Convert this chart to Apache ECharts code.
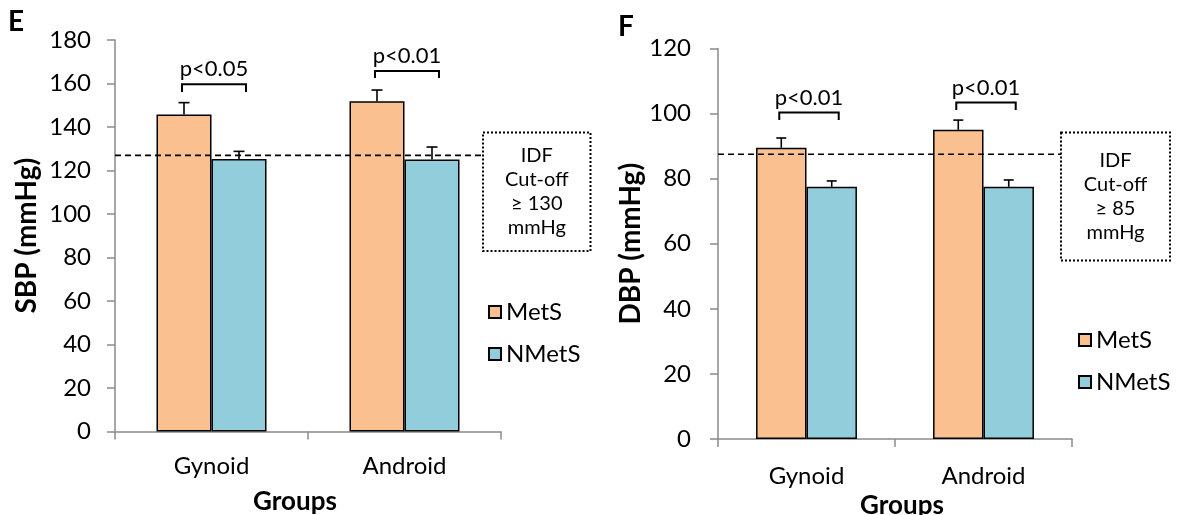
<!DOCTYPE html>
<html>
<head>
<meta charset="utf-8">
<script src="https://cdn.jsdelivr.net/npm/echarts@6/dist/echarts.min.js"></script>
<style>
  html, body { margin: 0; padding: 0; background: #ffffff; }
  #chart { width: 1185px; height: 515px; }
</style>
</head>
<body>
<div id="chart"></div>
<script>
// Groups and series
const categories = ['Gynoid', 'Android'];
const seriesNames = ['MetS', 'NMetS'];

// Panel E: systolic blood pressure (mmHg), mean and error
const sbpMetS = [145.8, 151.8];
const sbpMetSErr = [5.4, 5.2];
const sbpNMetS = [125.3, 125.1];
const sbpNMetSErr = [3.5, 5.7];
const sbpCutoffLine = 127;
const sbpPValues = ['p<0.05', 'p<0.01'];
const sbpBracketTop = [159.6, 165.7];
const sbpBracketLeg = [156.1, 162.5];
const sbpAxisRange = [0, 180, 20];
const sbpBoxText = ['IDF', 'Cut-off', '\u2265 130', 'mmHg'];

// Panel F: diastolic blood pressure (mmHg), mean and error
const dbpMetS = [89.5, 95.0];
const dbpMetSErr = [3.0, 3.0];
const dbpNMetS = [77.5, 77.5];
const dbpNMetSErr = [1.8, 2.1];
const dbpCutoffLine = 87.5;
const dbpPValues = ['p<0.01', 'p<0.01'];
const dbpBracketTop = [100.3, 103.4];
const dbpBracketLeg = [98.0, 101.1];
const dbpAxisRange = [0, 120, 20];
const dbpBoxText = ['IDF', 'Cut-off', '\u2265 85', 'mmHg'];

const FONT = 'Lato, "Open Sans", sans-serif';
const ORANGE = '#FAC090';
const BLUE = '#92CDDC';
const AXIS_GREY = '#8a8a8a';
const CAT_GAP = 0.43;

// x position of the centre of bar k (0 = MetS, 1 = NMetS) in a category
function barCenter(api, cat, k) {
  const c = api.coord([cat, 0]);
  const band = api.size([1, 0])[0];
  const w = band * (1 - CAT_GAP) / 2;
  return c[0] + (k === 0 ? -w / 2 : w / 2);
}

function barSeries(name, gridIdx, data, color) {
  return {
    name: name, type: 'bar', xAxisIndex: gridIdx, yAxisIndex: gridIdx,
    data: data, barGap: '0%', barCategoryGap: (CAT_GAP * 100) + '%',
    itemStyle: { color: color, borderColor: '#000', borderWidth: 1.5 },
    emphasis: { disabled: true }, silent: true
  };
}

function errorBarSeries(gridIdx, means, errs, k, cap) {
  return {
    type: 'custom', xAxisIndex: gridIdx, yAxisIndex: gridIdx, z: 5, silent: true,
    data: means.map((m, i) => [i, m, m + errs[i]]),
    renderItem(params, api) {
      const cat = api.value(0);
      const x = barCenter(api, cat, k);
      const y0 = api.coord([cat, api.value(1)])[1];
      const y1 = api.coord([cat, api.value(2)])[1];
      const st = { stroke: '#000', lineWidth: 1.6 };
      return { type: 'group', children: [
        { type: 'line', shape: { x1: x, y1: y0, x2: x, y2: y1 }, style: st },
        { type: 'line', shape: { x1: x - cap / 2, y1: y1, x2: x + cap / 2, y2: y1 }, style: st }
      ] };
    }
  };
}

function bracketSeries(gridIdx, tops, legs, texts) {
  return {
    type: 'custom', xAxisIndex: gridIdx, yAxisIndex: gridIdx, z: 6, silent: true,
    data: tops.map((t, i) => [i, t, legs[i]]),
    renderItem(params, api) {
      const cat = api.value(0);
      const xa = barCenter(api, cat, 0) - 2;
      const xb = barCenter(api, cat, 1) + 7;
      const yt = api.coord([cat, api.value(1)])[1];
      const yl = api.coord([cat, api.value(2)])[1];
      return { type: 'group', children: [
        { type: 'polyline',
          shape: { points: [[xa, yl], [xa, yt], [xb, yt], [xb, yl]] },
          style: { stroke: '#000', lineWidth: 2, fill: null } },
        { type: 'text', x: (xa + xb) / 2, y: yt - 4,
          style: { text: texts[params.dataIndex], fontSize: 22, fontFamily: FONT, fill: '#000',
                   align: 'center', verticalAlign: 'bottom',
                   textAlign: 'center', textVerticalAlign: 'bottom' } }
      ] };
    }
  };
}

function cutoffSeries(gridIdx, value, xEnd) {
  return {
    type: 'custom', xAxisIndex: gridIdx, yAxisIndex: gridIdx, z: 7, silent: true,
    data: [[0, value]],
    renderItem(params, api) {
      const y = api.coord([0, api.value(1)])[1];
      const x0 = params.coordSys.x;
      return { type: 'line', shape: { x1: x0, y1: y, x2: xEnd, y2: y },
               style: { stroke: '#000', lineWidth: 1.7, lineDash: [6, 4] } };
    }
  };
}

function valueAxis(gridIdx, range, name, gap, margin) {
  return {
    type: 'value', gridIndex: gridIdx, min: range[0], max: range[1], interval: range[2],
    name: name, nameLocation: 'middle', nameGap: gap,
    nameTextStyle: { fontSize: 28, fontWeight: 'bold', fontFamily: FONT, color: '#000' },
    axisLine: { show: true, lineStyle: { color: AXIS_GREY, width: 1.5 } },
    axisTick: { show: true, length: 8, lineStyle: { color: AXIS_GREY, width: 1.5 } },
    axisLabel: { fontSize: 24, fontFamily: FONT, color: '#000', margin: margin },
    splitLine: { show: false }
  };
}

function categoryAxis(gridIdx, gap, pad, labelMargin) {
  return {
    type: 'category', gridIndex: gridIdx, data: categories,
    name: 'Groups', nameLocation: 'middle', nameGap: gap,
    nameTextStyle: { fontSize: 26, fontWeight: 'bold', fontFamily: FONT, color: '#000', padding: pad },
    axisLine: { show: true, lineStyle: { color: AXIS_GREY, width: 1.5 } },
    axisTick: { show: true, length: 8, lineStyle: { color: AXIS_GREY, width: 1.5 } },
    axisLabel: { fontSize: 24, fontFamily: FONT, color: '#000', margin: labelMargin }
  };
}

function legendAt(left, top) {
  return {
    left: left, top: top, orient: 'vertical', icon: 'rect', padding: 0,
    itemWidth: 12, itemHeight: 12, itemGap: 18, selectedMode: false,
    data: seriesNames,
    textStyle: { fontSize: 24, fontFamily: FONT, color: '#000' }
  };
}

function boxGraphics(x, y, w, h, lines) {
  return [
    { type: 'rect', shape: { x: x, y: y, width: w, height: h },
      style: { fill: 'none', stroke: '#000', lineWidth: 2, lineDash: [2, 2] } },
    { type: 'text', x: x + w / 2, y: y + h / 2,
      style: { text: lines.join('\n'), fontSize: 20, fontFamily: FONT, fill: '#000',
               lineHeight: 24, align: 'center', verticalAlign: 'middle',
               textAlign: 'center', textVerticalAlign: 'middle' } }
  ];
}

const chart = echarts.init(document.getElementById('chart'), null, { renderer: 'canvas' });

chart.setOption({
  backgroundColor: '#ffffff',
  animation: false,
  grid: [
    { left: 115, top: 40, width: 386, height: 391.5, containLabel: false, outerBoundsMode: 'none' },
    { left: 718, top: 48.5, width: 354, height: 390.5, containLabel: false, outerBoundsMode: 'none' }
  ],
  xAxis: [
    categoryAxis(0, 57, [0, 26, 0, 0], 23),
    categoryAxis(1, 44, [0, 0, 0, 14], 25)
  ],
  yAxis: [
    valueAxis(0, sbpAxisRange, 'SBP (mmHg)', 74, 24),
    valueAxis(1, dbpAxisRange, 'DBP (mmHg)', 67, 27)
  ],
  legend: [legendAt(488, 300), legendAt(1078, 328)],
  series: [
    barSeries(seriesNames[0], 0, sbpMetS, ORANGE),
    barSeries(seriesNames[1], 0, sbpNMetS, BLUE),
    barSeries(seriesNames[0], 1, dbpMetS, ORANGE),
    barSeries(seriesNames[1], 1, dbpNMetS, BLUE),
    errorBarSeries(0, sbpMetS, sbpMetSErr, 0, 11),
    errorBarSeries(0, sbpNMetS, sbpNMetSErr, 1, 11),
    errorBarSeries(1, dbpMetS, dbpMetSErr, 0, 10),
    errorBarSeries(1, dbpNMetS, dbpNMetSErr, 1, 10),
    bracketSeries(0, sbpBracketTop, sbpBracketLeg, sbpPValues),
    bracketSeries(1, dbpBracketTop, dbpBracketLeg, dbpPValues),
    cutoffSeries(0, sbpCutoffLine, 483),
    cutoffSeries(1, dbpCutoffLine, 1061)
  ],
  graphic: [
    ...boxGraphics(483, 132.5, 107.5, 118.5, sbpBoxText),
    ...boxGraphics(1061, 132.5, 109, 128, dbpBoxText),
    { type: 'text', x: 8, y: 8,
      style: { text: 'E', fontSize: 28, fontWeight: 'bold', fontFamily: FONT, fill: '#000' } },
    { type: 'text', x: 618, y: 13,
      style: { text: 'F', fontSize: 28, fontWeight: 'bold', fontFamily: FONT, fill: '#000' } }
  ]
});
</script>
</body>
</html>
